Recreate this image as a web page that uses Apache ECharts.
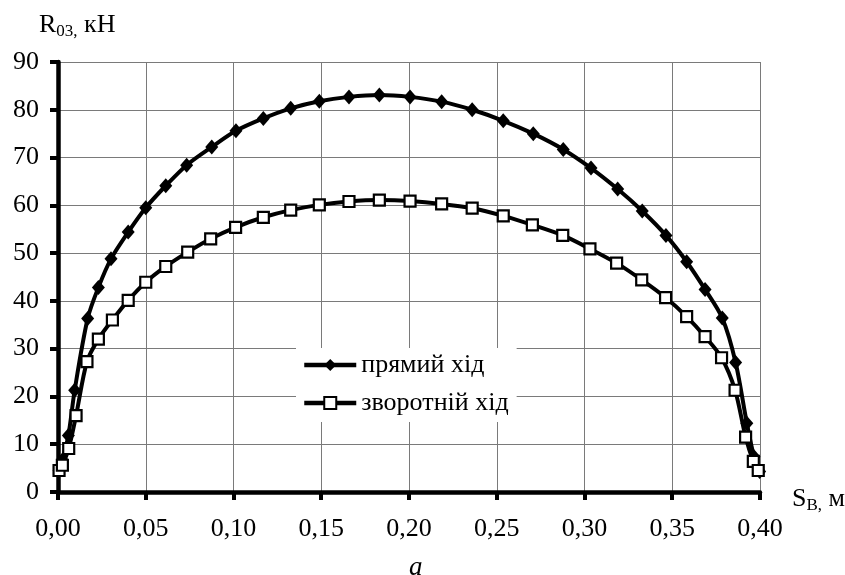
<!DOCTYPE html>
<html>
<head>
<meta charset="utf-8">
<script src="https://cdn.jsdelivr.net/npm/echarts@6/dist/echarts.min.js"></script>
<style>
  html, body { margin: 0; padding: 0; background: #fff; }
  #chart { width: 845px; height: 575px; }
</style>
</head>
<body>
<div id="chart"></div>
<script>
// Piston travel S_B (m) and joint reaction R03 (kN)
const forwardS = [0.0006, 0.0025, 0.0059, 0.0095, 0.0169, 0.0230, 0.0302, 0.0400, 0.0500, 0.0614,
  0.0733, 0.0876, 0.1014, 0.1170, 0.1326, 0.1489, 0.1658, 0.1831, 0.2006, 0.2186,
  0.2360, 0.2537, 0.2708, 0.2879, 0.3037, 0.3189, 0.3329, 0.3464, 0.3582, 0.3687,
  0.3785, 0.3861, 0.3925, 0.3966, 0.3998];
const forwardR = [4.5, 6.7, 11.8, 21.3, 36.3, 42.8, 48.8, 54.4, 59.5, 64.1,
  68.4, 72.2, 75.6, 78.2, 80.3, 81.8, 82.7, 83.1, 82.7, 81.7,
  80.0, 77.7, 75.0, 71.7, 67.8, 63.4, 58.8, 53.7, 48.2, 42.4,
  36.4, 27.1, 14.4, 7.4, 4.3];

const returnS = [0.0006, 0.0025, 0.0061, 0.0103, 0.0165, 0.0230, 0.0310, 0.0400, 0.0500, 0.0614,
  0.0739, 0.0870, 0.1012, 0.1170, 0.1326, 0.1489, 0.1658, 0.1831, 0.2006, 0.2186,
  0.2360, 0.2537, 0.2703, 0.2876, 0.3031, 0.3183, 0.3326, 0.3462, 0.3582, 0.3687,
  0.3781, 0.3858, 0.3918, 0.3962, 0.3990];
const returnR = [4.5, 5.6, 9.1, 16.0, 27.3, 32.0, 36.0, 40.1, 43.9, 47.2,
  50.2, 53.0, 55.4, 57.5, 59.0, 60.1, 60.8, 61.1, 60.9, 60.3,
  59.4, 57.8, 55.9, 53.7, 50.9, 47.9, 44.4, 40.7, 36.7, 32.5,
  28.1, 21.3, 11.5, 6.4, 4.5];

const seriesNames = ['прямий хід', 'зворотній хід'];

const pairs = (xs, ys) => xs.map((x, i) => [x, ys[i]]);
const FONT = 'Liberation Serif';

const mainText = { fontFamily: FONT, fontSize: 26, fontWeight: 'normal', color: '#000' };
const subText = { fontFamily: FONT, fontSize: 17, fontWeight: 'normal', color: '#000', padding: [12, 0, 0, 0] };

const chart = echarts.init(document.getElementById('chart'));
chart.setOption({
  backgroundColor: '#fff',
  animation: false,
  title: [
    {
      text: '{m|R}{s|03,}{m| кН}',
      left: 34, top: 6,
      textStyle: { fontWeight: 'normal', rich: { m: mainText, s: subText } }
    },
    {
      text: '{m|S}{s|B,}{m| м}',
      left: 787, top: 480,
      textStyle: { fontWeight: 'normal', rich: { m: mainText, s: subText } }
    },
    {
      text: 'а',
      left: 404, top: 549,
      textStyle: { fontFamily: FONT, fontSize: 27, fontStyle: 'italic', fontWeight: 'normal', color: '#000' }
    }
  ],
  legend: {
    orient: 'vertical',
    left: 296, top: 348,
    backgroundColor: '#fff',
    padding: [4, 8, 6, 6],
    itemGap: 12,
    itemWidth: 52,
    itemHeight: 15,
    lineStyle: { width: 4.5 },
    textStyle: { fontFamily: FONT, fontSize: 26, color: '#000' },
    data: seriesNames
  },
  grid: { left: 58, right: 85, top: 62, bottom: 83, containLabel: false },
  xAxis: {
    type: 'value',
    min: 0, max: 0.4, interval: 0.05,
    axisLine: { show: true, onZero: false, lineStyle: { color: '#000', width: 4.5 } },
    axisTick: { show: true, inside: false, length: 8, lineStyle: { color: '#000', width: 4 } },
    axisLabel: {
      margin: 24, color: '#000', fontFamily: FONT, fontSize: 26,
      formatter: v => v.toFixed(2).replace('.', ',')
    },
    splitLine: { show: true, lineStyle: { color: '#7a7a7a', width: 1 } }
  },
  yAxis: {
    type: 'value',
    min: 0, max: 90, interval: 10,
    axisLine: { show: true, onZero: false, lineStyle: { color: '#000', width: 4.5 } },
    axisTick: { show: true, inside: false, length: 8, lineStyle: { color: '#000', width: 4 } },
    axisLabel: { margin: 19, color: '#000', fontFamily: FONT, fontSize: 26 },
    splitLine: { show: true, lineStyle: { color: '#7a7a7a', width: 1 } }
  },
  series: [
    {
      name: seriesNames[0],
      type: 'line',
      data: pairs(forwardS, forwardR),
      smooth: 0.3,
      symbol: 'diamond',
      symbolSize: [13, 15],
      lineStyle: { color: '#000', width: 4 },
      itemStyle: { color: '#000', borderColor: '#000', borderWidth: 0 },
      z: 2
    },
    {
      name: seriesNames[1],
      type: 'line',
      data: pairs(returnS, returnR),
      smooth: 0.3,
      symbol: 'rect',
      symbolSize: 11,
      lineStyle: { color: '#000', width: 4 },
      itemStyle: { color: '#fff', borderColor: '#000', borderWidth: 2.2 },
      z: 3
    }
  ]
});
</script>
</body>
</html>
